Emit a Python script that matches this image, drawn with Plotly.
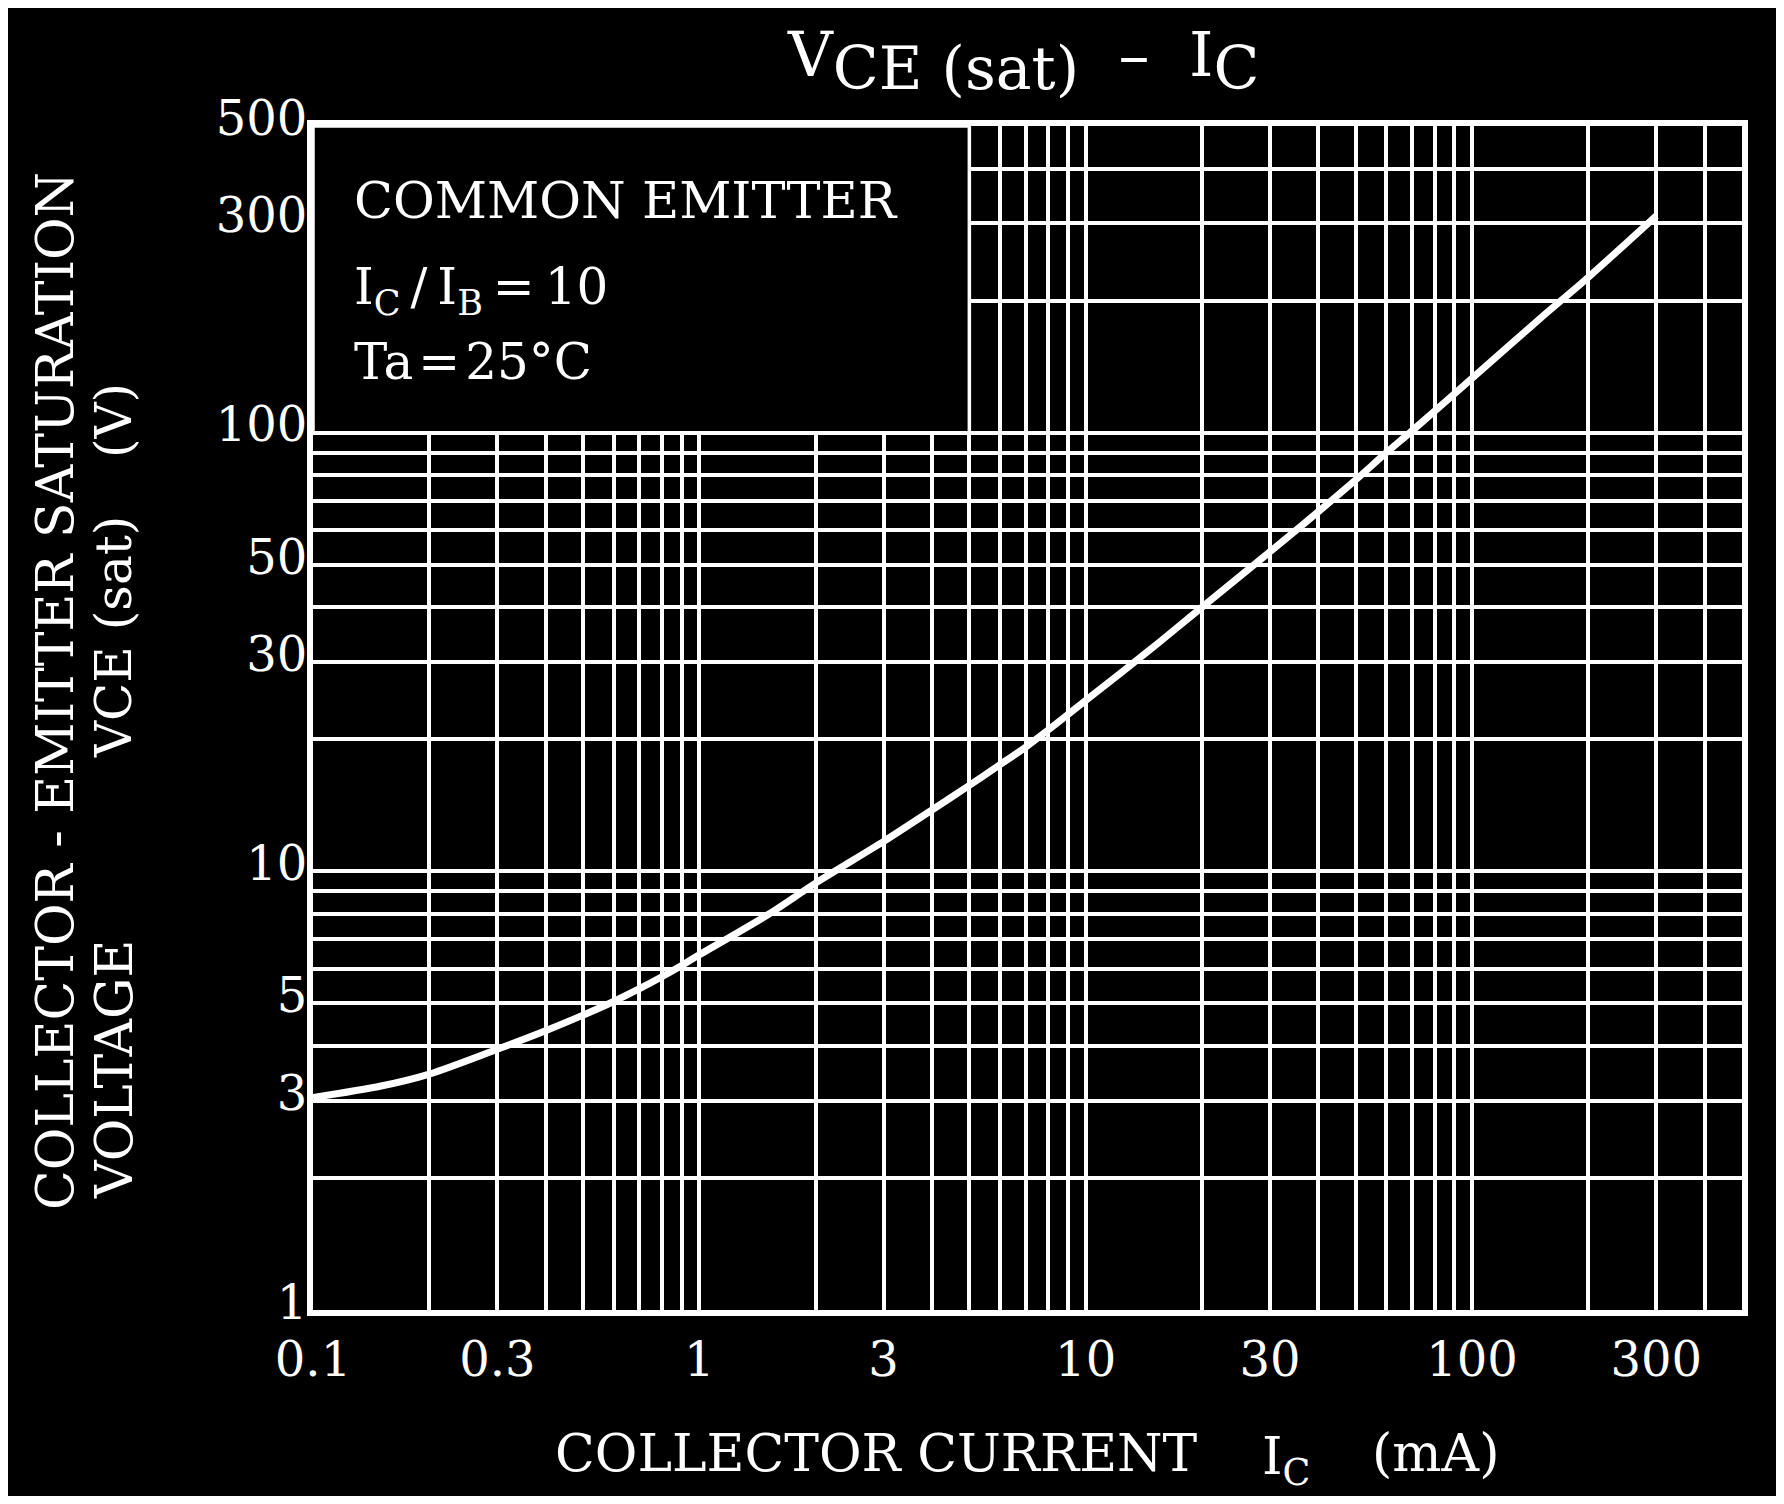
import plotly.graph_objects as go

# ---- data ----
ic_ma = [0.1, 0.15, 0.2, 0.3, 0.4, 0.5, 0.6, 0.7, 0.8, 0.9, 1, 1.5, 2, 3, 4, 5, 6, 7, 8,
         10, 15, 20, 30, 40, 50, 60, 70, 100, 150, 200, 300]
vce_sat = [3.05, 3.24, 3.45, 3.93, 4.33, 4.7, 5.05, 5.4, 5.75, 6.1, 6.45, 7.95, 9.4, 11.7,
           13.8, 15.7, 17.5, 19.2, 21.0, 24.5, 32.5, 40, 53.5, 66, 78, 90, 101, 133, 182,
           226, 312]

x_tick_vals = [0.1, 0.3, 1, 3, 10, 30, 100, 300]
x_tick_text = ["0.1", "0.3", "1", "3", "10", "30", "100", "300"]
y_tick_vals = [1, 3, 5, 10, 30, 50, 100, 300, 500]
y_tick_text = ["1", "3", "5", "10", "30", "50", "100", "300", "500"]

x_grid = [m * d for d in [0.1, 1, 10, 100] for m in range(1, 10)] + [500]
y_grid = [m * d for d in [1, 10, 100] for m in range(1, 10)] + [500]

# ---- layout geometry (page pixels; the page body adds an 8px offset) ----
OFF = 8
W_FIG, H_FIG = 1784 - 2 * OFF, 1504 - 2 * OFF
L, R, T, B = 313, 1742, 126, 1310          # plot frame in page pixels
PW, PH = R - L, B - T

def px(x):
    return (x - L) / PW

def py(y):
    return (B - y) / PH

FONT = "DejaVu Serif"
WHITE = "white"

fig = go.Figure()
fig.add_trace(go.Scatter(
    x=ic_ma, y=vce_sat, mode="lines",
    line=dict(color=WHITE, width=7, shape="spline", smoothing=0.8),
    hoverinfo="skip", showlegend=False,
))

axis_common = dict(
    type="log", showline=True, mirror=True, linewidth=6, linecolor=WHITE,
    showgrid=False, zeroline=False, ticks="",
    tickfont=dict(family=FONT, size=48, color=WHITE),
    tickmode="array",
)

fig.update_xaxes(
    **axis_common, range=[-1, 2.699],
    tickvals=x_tick_vals, ticktext=x_tick_text, ticklabelstandoff=2,
    minor=dict(tickmode="array", tickvals=x_grid, showgrid=True,
               gridcolor=WHITE, gridwidth=3.5, ticks=""),
)
fig.update_yaxes(
    **axis_common, range=[0, 2.699],
    tickvals=y_tick_vals, ticktext=y_tick_text, ticklabelstandoff=-10,
    ticklabelshift=-8,
    minor=dict(tickmode="array", tickvals=y_grid, showgrid=True,
               gridcolor=WHITE, gridwidth=3.5, ticks=""),
)

# conditions box (blanks the grid in the upper-left corner)
fig.add_shape(type="rect", xref="x", yref="y", x0=0.1, x1=5, y0=100, y1=500,
              fillcolor="black", line=dict(color=WHITE, width=3.5), layer="between")

def ann(text, x, y, size, xanchor="center", yanchor="middle", angle=0):
    fig.add_annotation(
        text=text, xref="paper", yref="paper", x=px(x), y=py(y),
        xanchor=xanchor, yanchor=yanchor, showarrow=False, textangle=angle,
        font=dict(family=FONT, size=size, color=WHITE),
    )

# title
ann("V<sub><span style='font-size:60px'>CE (sat)</span></sub>\u00a0\u00a0\u2013\u00a0\u00a0I<sub><span style='font-size:60px'>C</span></sub>",
    1023, 60, 62)

# conditions text
ann("COMMON EMITTER", 352, 200, 51, xanchor="left")
ann("I<sub>C</sub>\u2009/\u2009I<sub>B</sub>\u2009=\u200910", 352, 290, 50, xanchor="left")
ann("Ta\u200a=\u200a25°C", 352, 362, 50, xanchor="left")

# y-axis title
ann("COLLECTOR - EMITTER SATURATION", 55, 691, 52, angle=-90)
ann("VOLTAGE", 114, 1070, 52, angle=-90)
ann("VCE (sat)", 114, 637, 50, angle=-90)
ann("(V)", 114, 421, 50, angle=-90)

# x-axis title
ann("COLLECTOR CURRENT", 876, 1453, 52)
ann("I<sub>C</sub>", 1286, 1460, 52)
ann("(mA)", 1435, 1453, 52)

fig.update_layout(
    width=W_FIG, height=H_FIG,
    margin=dict(l=L - OFF, r=W_FIG - (R - OFF), t=T - OFF, b=H_FIG - (B - OFF)),
    paper_bgcolor="black", plot_bgcolor="black",
    showlegend=False,
)

fig.write_html("out.html")
